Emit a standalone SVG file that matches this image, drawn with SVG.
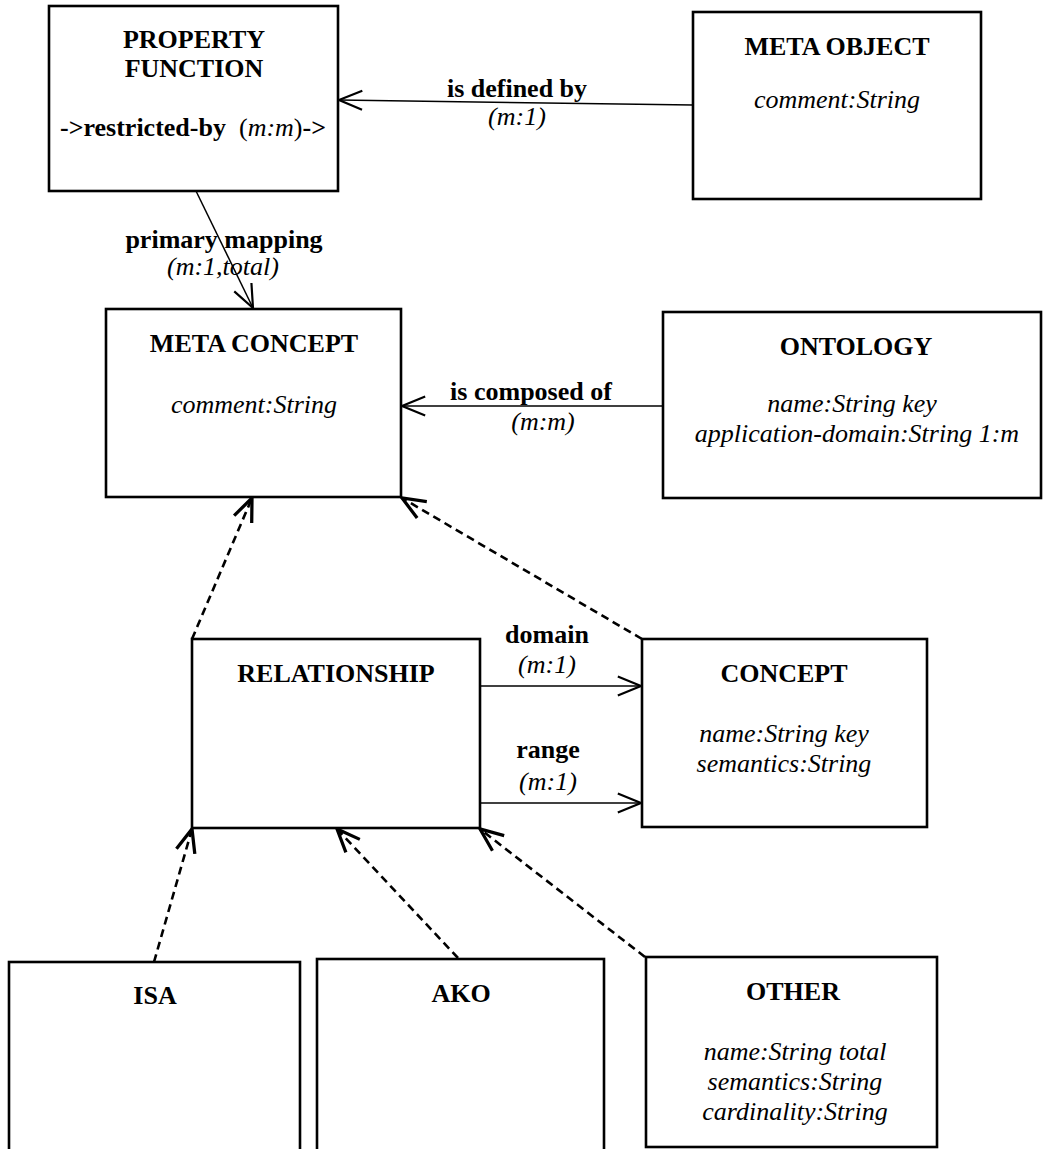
<svg xmlns="http://www.w3.org/2000/svg" width="1048" height="1149" viewBox="0 0 1048 1149">
<style>
  .box { fill: #fff; stroke: #000; stroke-width: 2.6; }
  .t { font-family: "Liberation Serif", "Times New Roman", serif; font-size: 26px; fill: #000; text-anchor: middle; }
  .b { font-weight: bold; }
  .i { font-style: italic; }
  .conn { fill: none; stroke: #000; stroke-width: 1.5; }
  .dash { fill: none; stroke: #000; stroke-width: 2.6; stroke-dasharray: 8 5; }
</style>
<defs>
  <marker id="arr" markerUnits="userSpaceOnUse" markerWidth="30" markerHeight="30" viewBox="-20 -10 22 20" refX="0" refY="0" orient="auto" overflow="visible">
    <path d="M-17,-7 L0,0 L-17,7" fill="none" stroke="#000" stroke-width="1.6" stroke-dasharray="none"/>
  </marker>
  <marker id="arrd" markerUnits="userSpaceOnUse" markerWidth="30" markerHeight="30" viewBox="-20 -10 22 20" refX="0" refY="0" orient="auto" overflow="visible">
    <path d="M-17,-7 L0,0 L-17,7" fill="none" stroke="#000" stroke-width="2.4" stroke-dasharray="none"/>
  </marker>
</defs>
<rect width="1048" height="1149" fill="#fff"/>

<g id="connectors">
  <path class="conn" d="M693,105 L339,100" marker-end="url(#arr)"/>
  <path class="conn" d="M196,191 L253,308" marker-end="url(#arr)"/>
  <path class="conn" d="M663,406 L402,406" marker-end="url(#arr)"/>
  <path class="dash" d="M192,639 L252,498" marker-end="url(#arrd)"/>
  <path class="dash" d="M642,639 L402,498" marker-end="url(#arrd)"/>
  <path class="conn" d="M475,686 L641,686" marker-end="url(#arr)"/>
  <path class="conn" d="M475,803 L641,803" marker-end="url(#arr)"/>
  <path class="dash" d="M154,962 L192,829" marker-end="url(#arrd)"/>
  <path class="dash" d="M458,958 L337,829" marker-end="url(#arrd)"/>
  <path class="dash" d="M645,957 L480,829" marker-end="url(#arrd)"/>
  <text class="t b" x="517" y="97">is defined by</text>
  <text class="t i" x="517" y="125">(m:1)</text>
  <text class="t b" x="224" y="248">primary mapping</text>
  <text class="t i" x="223" y="275">(m:1,total)</text>
  <text class="t b" x="531" y="400">is composed of</text>
  <text class="t i" x="543" y="430">(m:m)</text>
  <text class="t b" x="547" y="643">domain</text>
  <text class="t i" x="547" y="673">(m:1)</text>
  <text class="t b" x="548" y="758">range</text>
  <text class="t i" x="548" y="790">(m:1)</text>
</g>

<g id="property-function">
  <rect class="box" x="49" y="6" width="289" height="185"/>
  <text class="t b" x="194" y="48">PROPERTY</text>
  <text class="t b" x="194" y="77">FUNCTION</text>
  <text class="t" x="193" y="136"><tspan font-weight="bold">-&gt;restricted-by</tspan>&#160;&#160;(<tspan font-style="italic">m:m</tspan>)<tspan font-weight="bold">-&gt;</tspan></text>
</g>

<g id="meta-object">
  <rect class="box" x="693" y="12" width="288" height="187"/>
  <text class="t b" x="837" y="55">META OBJECT</text>
  <text class="t i" x="837" y="108">comment:String</text>
</g>

<g id="meta-concept">
  <rect class="box" x="106" y="309" width="295" height="188"/>
  <text class="t b" x="254" y="352">META CONCEPT</text>
  <text class="t i" x="254" y="413">comment:String</text>
</g>

<g id="ontology">
  <rect class="box" x="663" y="312" width="378" height="186"/>
  <text class="t b" x="856" y="355">ONTOLOGY</text>
  <text class="t i" x="852" y="412">name:String key</text>
  <text class="t i" x="857" y="442">application-domain:String 1:m</text>
</g>

<g id="relationship">
  <rect class="box" x="192" y="639" width="288" height="189"/>
  <text class="t b" x="336" y="682">RELATIONSHIP</text>
</g>

<g id="concept">
  <rect class="box" x="642" y="639" width="285" height="188"/>
  <text class="t b" x="784" y="682">CONCEPT</text>
  <text class="t i" x="784" y="742">name:String key</text>
  <text class="t i" x="784" y="772">semantics:String</text>
</g>

<g id="isa">
  <rect class="box" x="9" y="962" width="291" height="200"/>
  <text class="t b" x="155" y="1004">ISA</text>
</g>

<g id="ako">
  <rect class="box" x="317" y="959" width="287" height="200"/>
  <text class="t b" x="461" y="1002">AKO</text>
</g>

<g id="other">
  <rect class="box" x="646" y="957" width="291" height="190"/>
  <text class="t b" x="793" y="1000">OTHER</text>
  <text class="t i" x="795" y="1060">name:String total</text>
  <text class="t i" x="795" y="1090">semantics:String</text>
  <text class="t i" x="795" y="1120">cardinality:String</text>
</g>
</svg>
